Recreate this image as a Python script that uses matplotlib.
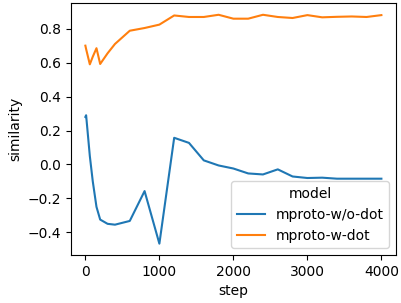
import matplotlib
matplotlib.use("Agg")
import matplotlib.pyplot as plt
import pandas as pd
import seaborn as sns

# steps logged for both models
steps = [0, 10, 60, 100, 150, 200, 300, 400, 600, 800, 1000, 1200, 1400, 1600,
         1800, 2000, 2200, 2400, 2600, 2800, 3000, 3200, 3400, 3600, 3800, 4000]

# similarity values
sim_wo_dot = [0.28, 0.29, 0.05, -0.10, -0.25, -0.325, -0.35, -0.355, -0.333, -0.157,
              -0.467, 0.157, 0.127, 0.024, -0.006, -0.024, -0.053, -0.059, -0.029,
              -0.071, -0.080, -0.078, -0.084, -0.084, -0.084, -0.084]
sim_w_dot = [0.70, 0.68, 0.59, 0.635, 0.685, 0.592, 0.655, 0.71, 0.788, 0.804,
             0.824, 0.878, 0.869, 0.869, 0.882, 0.859, 0.859, 0.882, 0.869, 0.863,
             0.880, 0.867, 0.870, 0.872, 0.869, 0.880]

models = ["mproto-w/o-dot", "mproto-w-dot"]

df = pd.DataFrame({
    "step": steps + steps,
    "similarity": sim_wo_dot + sim_w_dot,
    "model": [models[0]] * len(steps) + [models[1]] * len(steps),
})

fig = plt.figure(figsize=(4.01, 3.03), dpi=100)
ax = fig.add_axes([0.176, 0.158, 0.812, 0.831])

sns.lineplot(data=df, x="step", y="similarity", hue="model", ax=ax,
             palette=["#1f77b4", "#ff7f0e"])

sns.move_legend(ax, "lower right", title="model")

plt.savefig("out.png", dpi=100)
